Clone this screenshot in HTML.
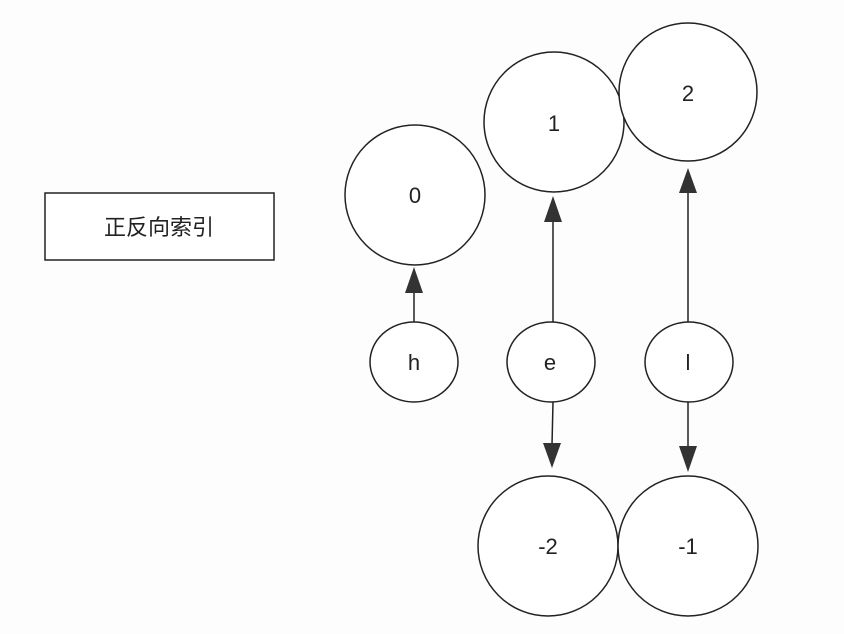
<!DOCTYPE html>
<html><head><meta charset="utf-8"><style>
html,body{margin:0;padding:0;background:#fdfdfd;}
svg{display:block}
text{font-family:"Liberation Sans","Noto Sans CJK SC",sans-serif;fill:#222;}
</style></head><body>
<svg width="844" height="634" viewBox="0 0 844 634" xmlns="http://www.w3.org/2000/svg">
<g fill="#fff" stroke="#222" stroke-width="1.5">
<rect x="45" y="193" width="229" height="67"/>
<circle cx="415" cy="195" r="70"/>
<circle cx="554" cy="122" r="70"/>
<circle cx="688" cy="92" r="69"/>
<ellipse cx="414" cy="362" rx="44" ry="40"/>
<ellipse cx="551" cy="362" rx="44" ry="40"/>
<ellipse cx="689" cy="362" rx="44" ry="40"/>
<circle cx="548" cy="546" r="70"/>
<circle cx="688" cy="546" r="70"/>
</g>
<g stroke="#222" stroke-width="1.5">
<line x1="414" y1="322" x2="414" y2="290"/>
<line x1="553" y1="322" x2="553" y2="220"/>
<line x1="688" y1="322" x2="688" y2="192"/>
<line x1="553" y1="402" x2="552" y2="445"/>
<line x1="688" y1="402" x2="688" y2="447"/>
</g>
<g fill="#333">
<polygon points="414,267 405,293 423,293"/>
<polygon points="553,196 544,222 562,222"/>
<polygon points="688,168 679,193 697,193"/>
<polygon points="552,468 543,443 561,443"/>
<polygon points="688,472 679,446 697,446"/>
</g>
<g font-size="22" text-anchor="middle">
<text x="159" y="235">正反向索引</text>
<text x="415" y="203">0</text>
<text x="554" y="131">1</text>
<text x="688" y="101">2</text>
<text x="414" y="370">h</text>
<text x="550" y="370">e</text>
<text x="688" y="370">l</text>
<text x="548" y="554">-2</text>
<text x="688" y="554">-1</text>
</g>
</svg>
</body></html>
